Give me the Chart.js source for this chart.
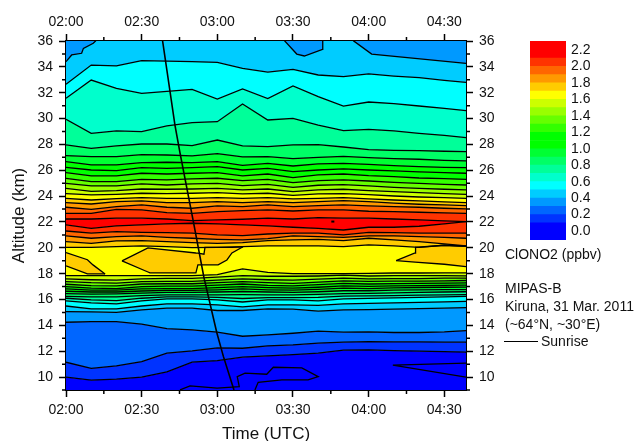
<!DOCTYPE html>
<html>
<head>
<meta charset="utf-8">
<title>ClONO2 MIPAS-B</title>
<script src="https://cdn.jsdelivr.net/npm/chart.js@4"></script>
<style>
  html, body { margin: 0; padding: 0; background: #fff; }
  #wrap { position: relative; width: 636px; height: 441px; overflow: hidden; }
  #main { position: absolute; left: 0; top: 0; }
  #bar { position: absolute; left: 510px; top: 0; }
  .note { position: absolute; left: 505px; font: 14px "Liberation Sans", Arial, sans-serif; color: #111; white-space: nowrap; line-height: 16px; }
  #sunriseKey { position: absolute; left: 504px; top: 341px; width: 34px; height: 0; border-top: 1.5px solid #000; }
</style>
</head>
<body>
<div id="wrap">
  <canvas id="main" width="636" height="441"></canvas>
  <canvas id="bar" width="126" height="260"></canvas>
  <div class="note" style="top:246px">ClONO2 (ppbv)</div>
  <div class="note" style="top:280px">MIPAS-B</div>
  <div class="note" style="top:298px">Kiruna, 31 Mar. 2011</div>
  <div class="note" style="top:316px">(~64°N, ~30°E)</div>
  <div class="note" style="top:333px;left:541px">Sunrise</div>
  <div id="sunriseKey"></div>
</div>
<script>
// minutes after 02:00
const minutes = [0, 10, 20, 30, 40, 50, 60, 70, 80, 90, 100, 110, 120, 130, 140, 150, 158.6];

// contour altitudes (km), lower side of the ClONO2 maximum
const low01 = [9.99, 9.76, 9.84, 9.99, 10.4, 11.15, 11.27, 11.54, 11.64, 11.74, 11.85, 12.08, 12.1, 12.05, 12.0, 11.97, 11.93];
const low02 = [11.15, 10.68, 10.86, 11.2, 11.85, 12.03, 12.26, 12.23, 12.41, 12.49, 12.62, 12.7, 12.75, 12.73, 12.73, 12.7, 12.7];
const low03 = [14.24, 14.29, 14.29, 14.09, 13.75, 13.65, 13.47, 13.16, 13.26, 13.39, 13.55, 13.47, 13.5, 13.45, 13.45, 13.5, 13.6];
const low04 = [15.07, 15.04, 15.0, 15.2, 15.33, 15.33, 15.15, 15.15, 15.27, 15.25, 15.1, 15.2, 15.22, 15.25, 15.3, 15.33, 15.38];
const low05 = [15.5, 15.27, 15.27, 15.5, 15.66, 15.66, 15.58, 15.43, 15.58, 15.58, 15.54, 15.66, 15.7, 15.74, 15.78, 15.82, 15.85];
const low06 = [15.89, 15.74, 15.66, 15.89, 16.05, 16.05, 15.97, 15.81, 15.97, 15.97, 15.89, 16.05, 16.09, 16.12, 16.16, 16.2, 16.24];
const low07 = [16.1, 15.97, 15.92, 16.1, 16.2, 16.2, 16.16, 16.08, 16.14, 16.14, 16.16, 16.26, 16.28, 16.3, 16.34, 16.36, 16.38];
const low08 = [16.25, 16.2, 16.2, 16.3, 16.36, 16.36, 16.36, 16.38, 16.36, 16.36, 16.4, 16.46, 16.48, 16.52, 16.55, 16.58, 16.6];
const low09 = [16.46, 16.42, 16.44, 16.5, 16.55, 16.55, 16.58, 16.62, 16.58, 16.56, 16.6, 16.68, 16.68, 16.72, 16.74, 16.76, 16.77];
const low10 = [16.64, 16.58, 16.58, 16.66, 16.7, 16.7, 16.75, 16.82, 16.75, 16.72, 16.78, 16.88, 16.85, 16.9, 16.93, 16.95, 16.96];
const low11 = [16.82, 16.72, 16.72, 16.82, 16.85, 16.85, 16.92, 17.0, 16.92, 16.88, 16.95, 17.05, 17.02, 17.05, 17.08, 17.1, 17.11];
const low12 = [17.0, 16.88, 16.85, 17.0, 17.03, 17.03, 17.12, 17.2, 17.1, 17.05, 17.15, 17.25, 17.2, 17.23, 17.25, 17.27, 17.29];
const low13 = [17.18, 17.08, 17.05, 17.2, 17.22, 17.22, 17.3, 17.38, 17.3, 17.25, 17.35, 17.45, 17.4, 17.42, 17.43, 17.45, 17.47];
const low14 = [17.38, 17.3, 17.27, 17.38, 17.4, 17.4, 17.5, 17.6, 17.53, 17.5, 17.57, 17.65, 17.6, 17.62, 17.62, 17.65, 17.65];
const low15 = [17.59, 17.53, 17.5, 17.6, 17.63, 17.63, 17.73, 17.85, 17.8, 17.8, 17.82, 17.88, 17.82, 17.85, 17.85, 17.85, 17.83];
const low16 = [17.85, 17.85, 17.85, 17.85, 17.85, 17.85, 17.93, 18.37, 18.1, 18.0, 18.0, 18.0, 18.03, 18.05, 18.05, 18.06, 18.06];
const low17 = [20.04, 20.04, 20.09, 20.15, 20.09, 20.02, 20.04, 20.09, 20.15, 20.15, 20.15, 20.09, 20.22, 20.15, 20.04, 20.2, 20.12];
const low18 = [20.48, 20.35, 20.53, 20.56, 20.48, 20.4, 20.35, 20.4, 20.56, 20.61, 20.66, 20.56, 20.74, 20.61, 20.48, 20.3, 20.15];
const low19 = [20.92, 20.74, 20.87, 20.92, 20.81, 20.74, 20.66, 20.61, 20.71, 20.92, 20.87, 20.81, 20.92, 20.92, 20.87, 20.81, 20.74];
const low20 = [21.3, 21.13, 21.25, 21.2, 21.18, 21.13, 21.0, 20.94, 21.07, 21.13, 21.13, 21.0, 21.2, 21.18, 21.13, 21.13, 21.13];
const low21 = [21.77, 21.51, 21.69, 21.77, 21.85, 21.9, 21.85, 21.77, 21.69, 21.59, 21.51, 21.38, 21.59, 21.59, 21.67, 21.85, 22.03];

// contour altitudes (km), upper side
const up21 = [22.23, 22.23, 22.29, 22.29, 22.23, 22.1, 22.16, 22.21, 22.29, 22.23, 22.34, 22.29, 22.29, 22.23, 22.16, 22.08, 22.03];
const up20 = [22.67, 22.67, 22.98, 22.93, 22.72, 22.67, 22.8, 22.88, 22.93, 22.85, 22.93, 22.93, 22.83, 22.8, 22.75, 22.7, 22.67];
const up19 = [23.14, 22.98, 23.19, 23.32, 23.14, 23.06, 23.24, 23.19, 23.32, 23.19, 23.27, 23.32, 23.24, 23.19, 23.14, 23.06, 23.01];
const up18 = [23.5, 23.39, 23.57, 23.63, 23.5, 23.5, 23.57, 23.5, 23.57, 23.5, 23.57, 23.65, 23.57, 23.45, 23.37, 23.32, 23.27];
const up17 = [23.83, 23.7, 23.81, 23.88, 23.83, 23.83, 23.88, 23.83, 23.88, 23.78, 23.83, 23.88, 23.78, 23.7, 23.63, 23.55, 23.5];
const up16 = [24.19, 24.09, 24.14, 24.22, 24.19, 24.22, 24.27, 24.17, 24.22, 24.06, 24.17, 24.19, 24.12, 24.01, 23.93, 23.88, 23.83];
const up15 = [24.6, 24.37, 24.42, 24.55, 24.53, 24.55, 24.6, 24.48, 24.55, 24.35, 24.48, 24.53, 24.42, 24.35, 24.27, 24.19, 24.14];
const up14 = [24.99, 24.79, 24.79, 24.94, 24.86, 24.94, 24.99, 24.81, 24.91, 24.68, 24.84, 24.89, 24.79, 24.68, 24.6, 24.53, 24.48];
const up13 = [25.38, 25.12, 25.12, 25.3, 25.25, 25.33, 25.38, 25.2, 25.3, 25.04, 25.2, 25.25, 25.17, 25.07, 24.99, 24.91, 24.86];
const up12 = [25.82, 25.56, 25.56, 25.77, 25.71, 25.77, 25.82, 25.56, 25.71, 25.43, 25.64, 25.71, 25.58, 25.51, 25.4, 25.35, 25.3];
const up11 = [26.23, 26.02, 25.97, 26.2, 26.15, 26.2, 26.28, 26.02, 26.15, 25.89, 26.02, 26.1, 26.02, 25.95, 25.87, 25.82, 25.77];
const up10 = [26.67, 26.41, 26.41, 26.59, 26.62, 26.59, 26.67, 26.38, 26.54, 26.33, 26.49, 26.54, 26.46, 26.36, 26.28, 26.23, 26.2];
const up09 = [27.13, 27.05, 27.05, 27.21, 27.18, 27.11, 27.29, 27.03, 27.05, 26.9, 27.0, 27.08, 26.98, 26.9, 26.85, 26.77, 26.72];
const up08 = [27.96, 27.7, 27.88, 28.03, 28.03, 27.9, 28.34, 27.88, 27.83, 27.96, 27.98, 27.8, 27.6, 27.54, 27.52, 27.47, 27.44];
const up07 = [29.94, 28.86, 29.04, 28.99, 29.43, 29.68, 29.76, 31.13, 29.89, 30.02, 29.5, 29.06, 29.17, 29.04, 28.86, 28.7, 28.52];
const up06 = [31.57, 32.98, 32.34, 31.95, 32.11, 32.26, 31.51, 32.29, 31.54, 32.52, 31.69, 30.97, 31.28, 31.15, 30.97, 30.79, 30.61];
const up05 = [32.65, 34.14, 34.07, 34.48, 34.45, 34.4, 34.35, 33.89, 33.6, 33.81, 33.37, 33.24, 33.45, 33.29, 33.16, 32.96, 32.8];

// 0.4 ppbv pockets along the top edge
const cornerMinutes = [0, 2.25, 6.2, 6.9, 10.8, 11.9];
const cornerAlt = [34.4, 34.92, 35.05, 35.43, 35.82, 36.03];
const pocketMinutes = [86.6, 91.5, 94.5, 101.7, 101.8];
const pocketAlt = [36.03, 34.99, 34.84, 35.35, 36.03];
const rightMinutes = [113.9, 121.2, 158.6];
const rightAlt = [36.03, 34.99, 34.27];

// 1.7 ppbv pockets inside the yellow band
const leftIsleMinutes = [0, 8.5, 10.7, 15.5];
const leftIsleTop = [19.63, 19.08, 18.68, 17.98];
const leftIsleBottom = [18.6, 17.98, 17.98, 17.98];
const midIsleMinutes = [22.2, 32.5, 33.3, 51.5, 52.3, 54.7, 55.1, 60.3, 63.8, 65.8, 70.2];
const midIsleTop = [18.99, 19.99, 19.98, 19.6, 19.59, 19.51, 20.03, 20.04, 20.04, 20.04, 20.08];
const midIsleBottom = [18.99, 18.13, 18.06, 18.06, 18.68, 18.68, 18.68, 18.68, 19.06, 19.6, 20.08];
const rightIsleMinutes = [130.9, 138.4, 138.6, 150, 158.6];
const rightIsleTop = [19.01, 19.6, 20.04, 20.2, 20.12];
const rightIsleBottom = [19.01, 18.89, 18.89, 18.73, 18.55];

// unfilled contours in the deep blue part and the 2.2 spot
const floorMinutes = [45.2, 49.2, 59.9, 68.7, 67.9, 71.0, 79.6, 82.2, 93.5, 100.0, 96.0, 85.6, 76.2, 74.9];
const floorAlt = [9.01, 9.32, 9.14, 9.26, 10.04, 10.3, 10.22, 10.76, 10.71, 10.04, 9.78, 9.78, 9.6, 9.0];
const wedgeMinutes = [158.6, 129.6, 158.6];
const wedgeAlt = [11.08, 10.93, 10.0];
const spotMinutes = [105.2, 106.4];
const spotAlt = [22.03, 22.03];

// sunrise terminator
const sunriseMinutes = [38.3, 43.2, 45.2, 50.5, 54.7, 59.8, 62.4, 66.6];
const sunriseAlt = [36, 29.5, 27.34, 22.03, 17.69, 13.43, 11.6, 9];

// axes
const timeTicks = [0, 30, 60, 90, 120, 150];
const timeLabels = ['02:00', '02:30', '03:00', '03:30', '04:00', '04:30'];
const timeMinor = [15, 45, 75, 105, 135];
const altTicks = [10, 12, 14, 16, 18, 20, 22, 24, 26, 28, 30, 32, 34, 36];
const altMinor = [9, 11, 13, 15, 17, 19, 21, 23, 25, 27, 29, 31, 33, 35];

// colour bar
const barEdges = [-0.109, 0.1, 0.2, 0.3, 0.4, 0.5, 0.6, 0.7, 0.8, 0.9, 1.0, 1.1, 1.2, 1.3, 1.4, 1.5, 1.6, 1.7, 1.8, 1.9, 2.0, 2.1, 2.309];
const barColors = ['#0000ff', '#0033ff', '#0066ff', '#0099ff', '#00ccff', '#00ffff', '#00ffcc', '#00ff99', '#00ff66', '#00ff33', '#00ff00',
  '#00ff00', '#33ff00', '#66ff00', '#99ff00', '#ccff00', '#ffff00', '#ffcc00', '#ff9900', '#ff6600', '#ff3300', '#ff0000'];
const barTicks = [0, 0.2, 0.4, 0.6, 0.8, 1.0, 1.2, 1.4, 1.6, 1.8, 2.0, 2.2];

Chart.defaults.font.family = 'Liberation Sans';
Chart.defaults.font.size = 14;
Chart.defaults.color = '#111';

function contour(xs, ys, fill, color, width) {
  return {
    data: xs.map((x, i) => ({ x: x, y: ys[i] })),
    fill: fill,
    backgroundColor: color || 'transparent',
    borderColor: '#000',
    borderWidth: width === undefined ? 1.3 : width,
    pointRadius: 0,
    tension: 0
  };
}

const orange = '#ffcc00';
const pocketBlue = '#0099ff';

const stack = [low01, low02, low03, low04, low05, low06, low07, low08, low09, low10, low11, low12, low13, low14, low15, low16,
  low17, low18, low19, low20, low21, up21, up20, up19, up18, up17, up16, up15, up14, up13, up12, up11, up10, up09, up08, up07, up06, up05];
// colour of the band above each contour
const stackColors = barColors.slice(1).concat(barColors.slice(4, 21).reverse());

// pockets come first: the filler paints the last dataset first
const datasets = [
  contour(sunriseMinutes, sunriseAlt, false, null, 1.6),
  contour(floorMinutes, floorAlt, false),
  contour(wedgeMinutes, wedgeAlt, false),
  contour(spotMinutes, spotAlt, false, null, 2),
  contour(leftIsleMinutes, leftIsleTop, '+1', orange),
  contour(leftIsleMinutes, leftIsleBottom, false),
  contour(midIsleMinutes, midIsleTop, '+1', orange),
  contour(midIsleMinutes, midIsleBottom, false),
  contour(rightIsleMinutes, rightIsleTop, '+1', orange),
  contour(rightIsleMinutes, rightIsleBottom, false),
  contour(cornerMinutes, cornerAlt, 'end', pocketBlue),
  contour(pocketMinutes, pocketAlt, 'end', pocketBlue),
  contour(rightMinutes, rightAlt, 'end', pocketBlue),
  contour(minutes, low01, 'start', barColors[0], 0)
];

stack.forEach((alts, i) => {
  datasets.push(contour(minutes, alts, i === stack.length - 1 ? 'end' : '+1', stackColors[i]));
});

const minorTicks = {
  id: 'minorTicks',
  afterDraw(chart) {
    const ctx = chart.ctx;
    const a = chart.chartArea;
    ctx.save();
    ctx.strokeStyle = '#000';
    ctx.lineWidth = 1.5;
    ctx.beginPath();
    timeMinor.forEach(v => {
      const px = chart.scales.x.getPixelForValue(v);
      ctx.moveTo(px, a.top); ctx.lineTo(px, a.top - 4);
      ctx.moveTo(px, a.bottom); ctx.lineTo(px, a.bottom + 4);
    });
    altMinor.forEach(v => {
      const py = chart.scales.y.getPixelForValue(v);
      ctx.moveTo(a.left, py); ctx.lineTo(a.left - 4, py);
      ctx.moveTo(a.right, py); ctx.lineTo(a.right + 4, py);
    });
    ctx.stroke();
    ctx.restore();
  }
};

function axisStyle() {
  return {
    z: 1,
    border: { color: '#000', width: 2 },
    grid: { drawOnChartArea: false, drawTicks: true, tickLength: 7, tickColor: '#000', tickWidth: 1.5 }
  };
}

function timeAxis(position, size, pad, title) {
  return Object.assign(axisStyle(), {
    type: 'linear',
    position: position,
    min: 0,
    max: 158.6,
    afterBuildTicks: s => { s.ticks = timeTicks.map(v => ({ value: v })); },
    afterFit: s => { s.height = size; },
    ticks: {
      maxRotation: 0,
      autoSkip: false,
      padding: pad,
      callback: v => timeLabels[timeTicks.indexOf(v)]
    },
    title: title
  });
}

function altAxis(position, size, title) {
  return Object.assign(axisStyle(), {
    type: 'linear',
    position: position,
    min: 9,
    max: 36,
    afterBuildTicks: s => { s.ticks = altTicks.map(v => ({ value: v })); },
    afterFit: s => { s.width = size; },
    ticks: { autoSkip: false, padding: 6, callback: v => String(v) },
    title: title
  });
}

new Chart(document.getElementById('main'), {
  type: 'line',
  data: { datasets: datasets },
  options: {
    responsive: false,
    animation: false,
    events: [],
    layout: { padding: 0 },
    plugins: {
      legend: { display: false },
      tooltip: { enabled: false },
      filler: { drawTime: 'beforeDatasetsDraw' }
    },
    scales: {
      x: timeAxis('bottom', 51, 5, { display: true, text: 'Time (UTC)', font: { size: 17 }, padding: { top: 0, bottom: -4 } }),
      xTop: timeAxis('top', 41, 3, { display: false }),
      y: altAxis('left', 66, { display: true, text: 'Altitude (km)', font: { size: 17 }, padding: { top: 9, bottom: 0 } }),
      yRight: altAxis('right', 170, { display: false })
    }
  },
  plugins: [minorTicks]
});

new Chart(document.getElementById('bar'), {
  type: 'bar',
  data: {
    labels: ['ClONO2'],
    datasets: barColors.map((c, i) => ({
      data: [[barEdges[i], barEdges[i + 1]]],
      backgroundColor: c,
      borderWidth: 0,
      barPercentage: 1,
      categoryPercentage: 1
    }))
  },
  options: {
    responsive: false,
    animation: false,
    events: [],
    layout: { padding: { left: 20, top: 41, bottom: 20, right: 0 } },
    plugins: { legend: { display: false }, tooltip: { enabled: false } },
    scales: {
      x: { display: false, stacked: true },
      y: {
        position: 'right',
        min: -0.109,
        max: 2.309,
        afterBuildTicks: s => { s.ticks = barTicks.map(v => ({ value: v })); },
        afterFit: s => { s.width = 70; },
        grid: { display: false, tickLength: 0 },
        border: { display: false },
        ticks: { padding: 5, autoSkip: false, callback: v => v.toFixed(1) }
      }
    }
  }
});
</script>
</body>
</html>
